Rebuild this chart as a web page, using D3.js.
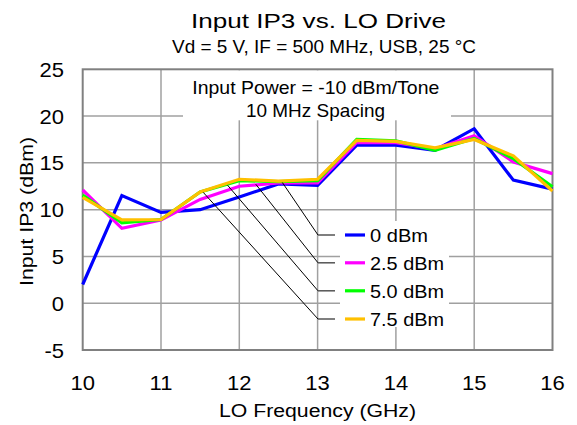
<!DOCTYPE html>
<html><head><meta charset="utf-8">
<script src="https://cdn.jsdelivr.net/npm/d3@7"></script>
<style>body{margin:0;background:#fff}svg{display:block;font-family:"Liberation Sans",Arial,sans-serif}</style>
</head><body><svg id="c" width="577" height="425"></svg>
<script>
const freqs = [10,10.5,11,11.5,12,12.5,13,13.5,14,14.5,15,15.5,16];
const ip3_0dBm  = [2.0,11.5,9.7,10.0,11.35,12.75,12.6,16.9,16.9,16.35,18.65,13.15,12.2];
const ip3_25dBm = [12.1,8.0,8.9,11.1,12.5,12.85,12.85,17.2,17.15,16.5,17.9,15.1,13.85];
const ip3_50dBm = [11.55,8.6,8.95,11.9,13.1,13.0,13.1,17.5,17.35,16.35,17.6,15.45,12.45];
const ip3_75dBm = [11.3,8.9,8.95,11.9,13.25,13.05,13.25,17.4,17.3,16.6,17.5,15.75,12.0];
const seriesNames = ["0 dBm","2.5 dBm","5.0 dBm","7.5 dBm"];
const seriesColors = ["#0000ff","#ff00ff","#00ff00","#ffc000"];
const xTicks = [10,11,12,13,14,15,16];
const yTicks = [-5,0,5,10,15,20,25];
// leader line anchor points (freq, dBm) for legend entries
const anchorX = [12.55,12.21,11.85,11.54];
const anchorY = [12.9,12.72,12.61,11.84];

const series = [ip3_0dBm, ip3_25dBm, ip3_50dBm, ip3_75dBm];
const svg = d3.select("#c");
const L=82.7, R=552.5, T=69.3, B=350;
const x = d3.scaleLinear().domain([10,16]).range([L,R]);
const y = d3.scaleLinear().domain([-5,25]).range([B,T]);

function txt(px, py, s, size, anchor, tl, sx){
  const t = svg.append("text").attr("font-size",size).attr("text-anchor",anchor||"start").text(s);
  if (sx) t.attr("transform",`translate(${px},${py}) scale(${sx},1)`);
  else t.attr("x",px).attr("y",py);
  if (tl) t.attr("textLength",tl).attr("lengthAdjust","spacingAndGlyphs");
  return t;
}

// gridlines
const g = svg.append("g").attr("stroke","#a0a0a0").attr("stroke-width",1.5);
yTicks.slice(1,-1).forEach(v=>g.append("line").attr("x1",L).attr("x2",R).attr("y1",y(v)).attr("y2",y(v)));
xTicks.slice(1,-1).forEach(v=>g.append("line").attr("y1",T).attr("y2",B).attr("x1",x(v)).attr("x2",x(v)));

// white text boxes covering gridlines
svg.append("rect").attr("x",183).attr("y",T+1).attr("width",268).attr("height",50).attr("fill","#fff");
svg.append("rect").attr("x",340).attr("y",221).attr("width",109).attr("height",106).attr("fill","#fff");

// frame
svg.append("rect").attr("x",L).attr("y",T).attr("width",R-L).attr("height",B-T)
  .attr("fill","none").attr("stroke","#808080").attr("stroke-width",2);

// series lines
const line = d3.line().x((d,i)=>x(freqs[i])).y(d=>y(d));
series.forEach((s,k)=>{
  svg.append("path").datum(s).attr("d",line).attr("fill","none")
    .attr("stroke",seriesColors[k]).attr("stroke-width",3.2).attr("stroke-linejoin","miter");
});

// legend
const rowY = [235,262.8,290.8,319];
const legendLen = [58,74,74,74];
seriesNames.forEach((n,k)=>{
  svg.append("line").attr("x1",x(anchorX[k])).attr("y1",y(anchorY[k])).attr("x2",318).attr("y2",rowY[k])
    .attr("stroke","#000").attr("stroke-width",1);
  svg.append("line").attr("x1",318).attr("x2",335).attr("y1",rowY[k]).attr("y2",rowY[k])
    .attr("stroke","#555").attr("stroke-width",1.5);
  svg.append("line").attr("x1",345).attr("x2",365).attr("y1",rowY[k]).attr("y2",rowY[k])
    .attr("stroke",seriesColors[k]).attr("stroke-width",3.2);
  txt(370, rowY[k]+6.7, n, 18.5, "start", legendLen[k]);
});

// tick labels
yTicks.forEach(v=>txt(64, y(v)+7.5, String(v), 20, "end", null, 1.1));
xTicks.forEach(v=>txt(x(v), 390, String(v), 20, "middle", null, 1.1));

// axis titles
txt(317.5, 417, "LO Frequency (GHz)", 18, "middle", 197);
svg.append("text").attr("transform","translate(33,211.5) rotate(-90)").attr("text-anchor","middle")
  .attr("font-size",18.5).attr("textLength",149).attr("lengthAdjust","spacingAndGlyphs").text("Input IP3 (dBm)");

// titles
txt(318.5, 28, "Input IP3 vs. LO Drive", 21, "middle", 255);
txt(324, 52.7, "Vd = 5 V, IF = 500 MHz, USB, 25 °C", 17.5, "middle", 304);

// annotation
txt(315.8, 94.3, "Input Power = -10 dBm/Tone", 19, "middle", 247);
txt(315.5, 117.3, "10 MHz Spacing", 19, "middle", 139);
</script></body></html>
